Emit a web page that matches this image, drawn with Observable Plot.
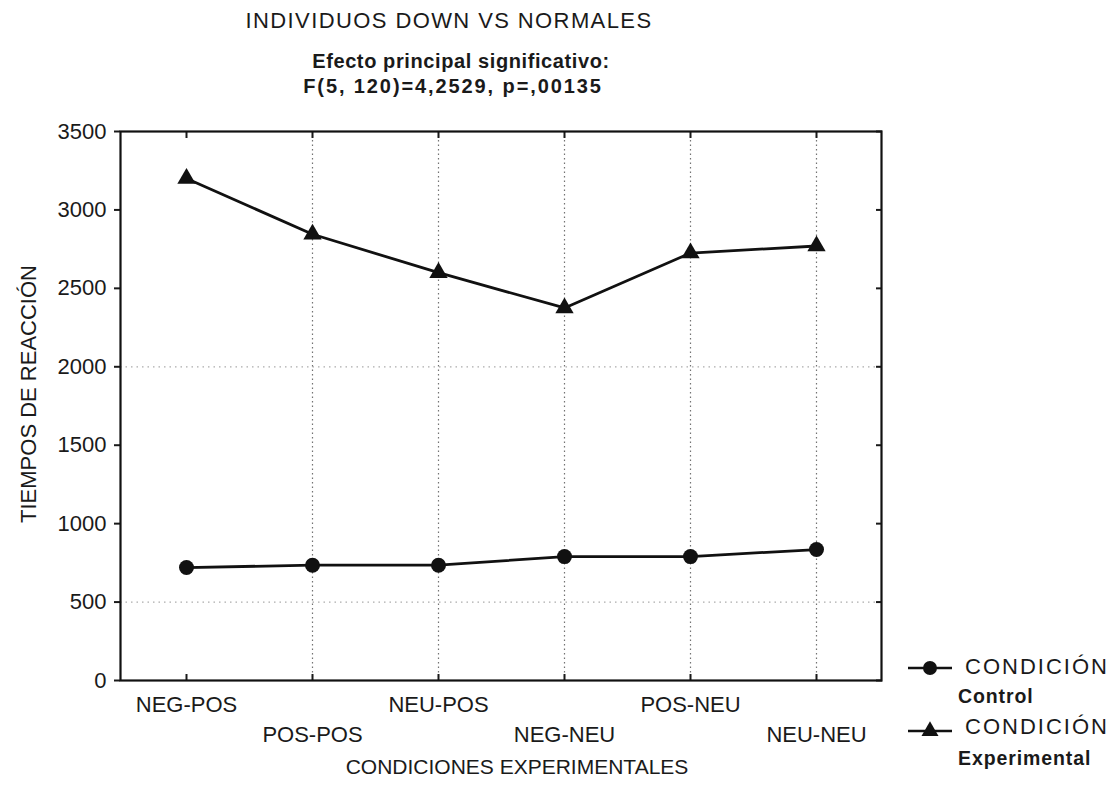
<!DOCTYPE html>
<html>
<head>
<meta charset="utf-8">
<script src="https://cdn.jsdelivr.net/npm/d3@7"></script>
<script src="https://cdn.jsdelivr.net/npm/@observablehq/plot@0.6"></script>
<style>
  html, body { margin: 0; padding: 0; background: #fff; }
  #wrap { position: relative; width: 1119px; height: 799px; overflow: hidden; font-family: "Liberation Sans", Arial, sans-serif; color: #1a1a1a; }
  .t { position: absolute; white-space: nowrap; line-height: 1; }
  .c { transform: translateX(-50%); }
  #chart { position: absolute; left: 0; top: 0; }
</style>
</head>
<body>
<div id="wrap">
  <div id="chart"></div>
  <div class="t c" style="left:449px; top:10px; font-size:22px; letter-spacing:1.4px;">INDIVIDUOS DOWN VS NORMALES</div>
  <div class="t c" style="left:461px; top:51px; font-size:20px; font-weight:bold; letter-spacing:0.6px;">Efecto principal significativo:</div>
  <div class="t c" style="left:453px; top:76px; font-size:20px; font-weight:bold; letter-spacing:1.9px;">F(5, 120)=4,2529, p=,00135</div>
  <div id="legend"></div>
</div>
<script>
const categories = ["NEG-POS", "POS-POS", "NEU-POS", "NEG-NEU", "POS-NEU", "NEU-NEU"];
const controlValues = [720, 735, 735, 790, 790, 835];
const experimentalValues = [3200, 2845, 2600, 2375, 2725, 2770];
const seriesNames = ["Control", "Experimental"];
const yTicks = [0, 500, 1000, 1500, 2000, 2500, 3000, 3500];
const gridYValues = [500, 2000];
const legendLines = [["CONDICIÓN", "Control"], ["CONDICIÓN", "Experimental"]];

const rows = [];
categories.forEach((c, i) => {
  rows.push({cat: c, value: controlValues[i], series: seriesNames[0]});
  rows.push({cat: c, value: experimentalValues[i], series: seriesNames[1]});
});
const ctrl = rows.filter(d => d.series === "Control");
const expe = rows.filter(d => d.series === "Experimental");

const topLabels = categories.filter((d, i) => i % 2 === 0);
const lowLabels = categories.filter((d, i) => i % 2 === 1);

const chart = Plot.plot({
  width: 1119,
  height: 799,
  marginLeft: 120,
  marginRight: 238,
  marginTop: 131,
  marginBottom: 119,
  style: {fontFamily: "Liberation Sans, Arial, sans-serif", fontSize: "22px", color: "#1a1a1a", background: "transparent"},
  x: {type: "point", domain: categories, padding: 0.5},
  y: {domain: [0, 3500]},
  marks: [
    Plot.gridX(categories.slice(1), {stroke: "#444", strokeOpacity: 0.75, strokeDasharray: "1.5,3", strokeWidth: 1.2}),
    Plot.gridY(gridYValues, {stroke: "#666", strokeOpacity: 0.55, strokeDasharray: "1.5,4", strokeWidth: 1.2}),
    Plot.axisY({ticks: yTicks, tickSize: 6, tickPadding: 8, fontSize: 22, tickFormat: d => String(d), label: null, strokeWidth: 2}),
    Plot.axisY({anchor: "right", ticks: yTicks, tickSize: -6, tickFormat: () => "", label: null, strokeWidth: 2}),
    Plot.axisX({anchor: "top", tickSize: -6, tickFormat: () => "", label: null, strokeWidth: 2}),
    Plot.axisX({anchor: "bottom", tickSize: -6, tickFormat: () => "", label: null, strokeWidth: 2}),
    Plot.frame({stroke: "#111", strokeWidth: 2.2}),
    Plot.text(topLabels, {x: d => d, frameAnchor: "bottom", dy: 31, fontSize: 22, fill: "#1a1a1a", style: "letter-spacing:1.2px"}),
    Plot.text(lowLabels, {x: d => d, frameAnchor: "bottom", dy: 61, fontSize: 22, fill: "#1a1a1a", style: "letter-spacing:0.4px"}),
    Plot.text(["CONDICIONES EXPERIMENTALES"], {frameAnchor: "bottom", dx: 16, dy: 93, fontSize: 21, fill: "#1a1a1a"}),
    Plot.text(["TIEMPOS DE REACCIÓN"], {frameAnchor: "left", textAnchor: "middle", dx: -92, dy: -12, rotate: -90, fontSize: 22, fill: "#1a1a1a"}),
    Plot.line(rows, {x: "cat", y: "value", z: "series", stroke: "#111", strokeWidth: 2.8}),
    Plot.dot(ctrl, {x: "cat", y: "value", symbol: "circle", r: 7.5, fill: "#111", stroke: "none"}),
    Plot.dot(expe, {x: "cat", y: "value", symbol: "triangle", r: 6.8, fill: "#111", stroke: "none"})
  ]
});
document.getElementById("chart").appendChild(chart);

// Legend (HTML with small SVG symbols)
const legend = document.getElementById("legend");
const legendPos = [{my: 668, t1: 656, t2: 687}, {my: 731, t1: 716, t2: 749}];
legendLines.forEach((lines, i) => {
  const p = legendPos[i];
  const ns = "http://www.w3.org/2000/svg";
  const svg = document.createElementNS(ns, "svg");
  svg.setAttribute("width", 50); svg.setAttribute("height", 24);
  svg.style.position = "absolute"; svg.style.left = "905px"; svg.style.top = (p.my - 12) + "px";
  const ln = document.createElementNS(ns, "line");
  ln.setAttribute("x1", 3); ln.setAttribute("x2", 47); ln.setAttribute("y1", 12); ln.setAttribute("y2", 12);
  ln.setAttribute("stroke", "#111"); ln.setAttribute("stroke-width", 2.6);
  svg.appendChild(ln);
  const sym = document.createElementNS(ns, "path");
  sym.setAttribute("d", d3.symbol(i === 0 ? d3.symbolCircle : d3.symbolTriangle, i === 0 ? Math.PI * 7 * 7 : Math.PI * 6.3 * 6.3)());
  sym.setAttribute("transform", "translate(25,12)");
  sym.setAttribute("fill", "#111");
  svg.appendChild(sym);
  legend.appendChild(svg);
  const a = document.createElement("div");
  a.className = "t"; a.textContent = lines[0];
  a.style.cssText = `left:965px; top:${p.t1}px; font-size:22px; letter-spacing:2px;`;
  legend.appendChild(a);
  const b = document.createElement("div");
  b.className = "t"; b.textContent = lines[1];
  b.style.cssText = `left:958px; top:${p.t2}px; font-size:19.5px; font-weight:bold; letter-spacing:0.9px;`;
  legend.appendChild(b);
});
</script>
</body>
</html>
